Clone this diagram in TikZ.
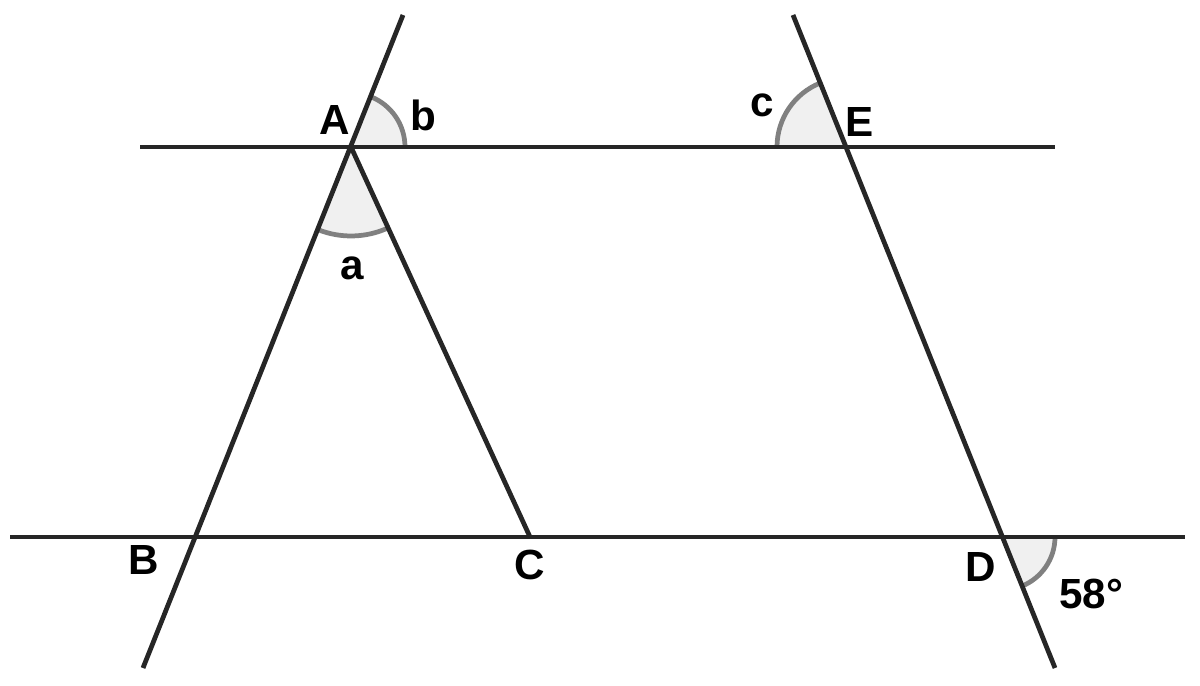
\documentclass[tikz,border=0pt]{standalone}
\usepackage{fontspec}
\setmainfont{Liberation Sans}
\begin{document}
\begin{tikzpicture}[x=0.02cm,y=0.02cm,
  ln/.style={line width=2.7pt,draw=black!85},
  arcst/.style={line width=2.7pt,draw=black!50},
  sect/.style={fill=black!6},
  lbl/.style={font=\fontsize{24}{28}\selectfont\bfseries,inner sep=0pt}]
\useasboundingbox (0,0) rectangle (1200,686);
% points
\coordinate (A) at (351,539);
\coordinate (B) at (195,149);
\coordinate (C) at (530,149);
\coordinate (E) at (846,539);
\coordinate (D) at (1002,149);
\coordinate (L1t) at (403,671);
\coordinate (L1b) at (143,18);
\coordinate (L2t) at (793,671);
\coordinate (L2b) at (1055,18);
\coordinate (T1) at (140,539);
\coordinate (T2) at (1055,539);
\coordinate (B1) at (10,149);
\coordinate (B2) at (1185,149);
% sectors
\fill[sect] (A) -- ++(0:54) arc[start angle=0,end angle=68.5,radius=54] -- cycle;
\fill[sect] (A) -- ++(248.5:89) arc[start angle=248.5,end angle=294.65,radius=89] -- cycle;
\fill[sect] (E) -- ++(111.9:69) arc[start angle=111.9,end angle=180,radius=69] -- cycle;
\fill[sect] (D) -- ++(-68:53) arc[start angle=-68,end angle=0,radius=53] -- cycle;
\draw[arcst] ([shift={(0:54)}]A) arc[start angle=0,end angle=68.5,radius=54];
\draw[arcst] ([shift={(248.5:89)}]A) arc[start angle=248.5,end angle=294.65,radius=89];
\draw[arcst] ([shift={(111.9:69)}]E) arc[start angle=111.9,end angle=180,radius=69];
\draw[arcst] ([shift={(-68:53)}]D) arc[start angle=-68,end angle=0,radius=53];
% lines
\draw[ln] (T1) -- (T2);
\draw[ln] (B1) -- (B2);
\draw[ln] (L1b) -- (L1t);
\draw[ln] (L2t) -- (L2b);
\draw[ln] (A) -- (C);
% labels
\node[lbl] (lA) at (335,566) {A};
\node[lbl] (lb) at (423,571) {b};
\node[lbl] (la) at (352,418) {a};
\node[lbl] (lc) at (762,581) {c};
\node[lbl] (lE) at (860,564) {E};
\node[lbl] (lB) at (144,126) {B};
\node[lbl] (lC) at (530,121) {C};
\node[lbl] (lD) at (981,119) {D};
\node[lbl] (l58) at (1091,92) {58°};
\end{tikzpicture}
\end{document}
